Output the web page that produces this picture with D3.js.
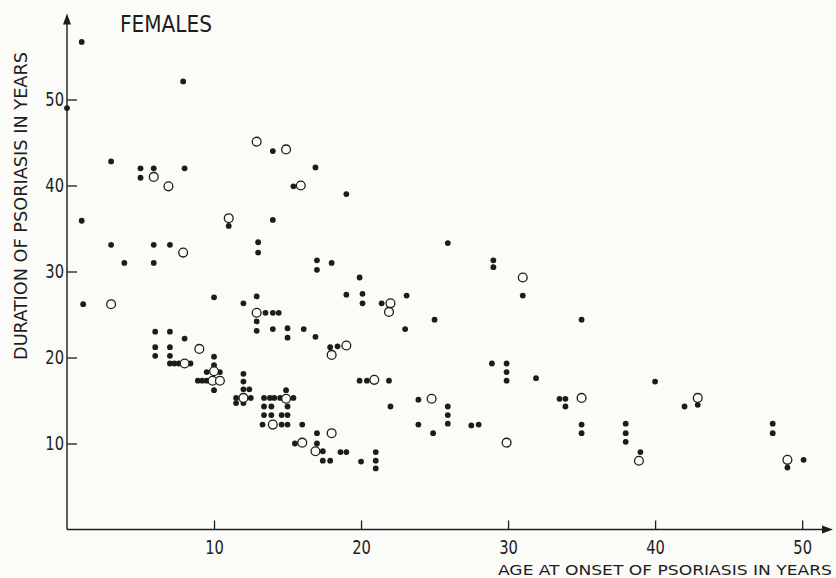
<!DOCTYPE html>
<html>
<head>
<meta charset="utf-8">
<script src="https://cdn.jsdelivr.net/npm/d3@7/dist/d3.min.js"></script>
<style>
  html, body { margin: 0; padding: 0; background: #fbfbf8; }
  svg { display: block; }
  text { font-family: "Liberation Sans Narrow", "DejaVu Sans Condensed", "Liberation Sans", Arial, sans-serif; fill: #1e1e1e; }
</style>
</head>
<body>
<svg id="chart" width="836" height="578"></svg>
<script>
// Tick values on both axes
const xTicks = [10, 20, 30, 40, 50];
const yTicks = [10, 20, 30, 40, 50];

// Filled dots: age at onset (years) and duration (years)
const filledOnset = [
  1.0, 0.0, 7.9, 3.0, 5.0, 5.0, 5.9, 8.0, 14.0, 16.9, 15.4, 19.0,
  1.0, 11.0, 14.0, 3.0, 3.9, 5.9, 5.9, 7.0, 13.0, 13.0, 17.0, 18.0, 17.0, 19.9,
  1.1, 10.0, 12.0, 12.9, 19.0, 20.1, 20.1, 21.4, 23.1, 25.0, 25.9, 29.0, 29.0, 31.0,
  13.5, 14.0, 14.4, 12.9, 12.9, 14.0, 15.0, 15.0, 16.1, 16.9, 23.0,
  6.0, 7.0, 8.0, 6.0, 7.0, 6.0, 7.0, 10.0,
  7.0, 7.3, 7.6, 8.4, 10.0, 9.5, 10.4, 8.9, 9.2, 9.5, 10.0,
  17.9, 18.4, 19.9, 20.4, 21.9,
  12.0, 12.0, 12.0, 12.4, 11.5, 12.5, 11.5, 12.0,
  13.4, 13.8, 14.1, 14.5, 15.4, 14.9,
  13.4, 13.9, 15.0, 13.4, 13.9, 14.6, 15.0, 13.3, 14.6, 15.0, 16.0,
  17.0, 15.5, 17.0, 17.4, 18.6, 19.0, 17.4, 17.9, 20.0, 21.0, 21.0, 21.0,
  23.9, 22.0, 23.9, 24.9, 25.9, 25.9, 25.9, 27.5, 28.0,
  28.9, 29.9, 29.9, 29.9, 31.9, 35.0, 40.0, 33.5, 33.9, 33.9, 35.0, 35.0,
  38.0, 38.0, 38.0, 39.0, 42.0, 42.9, 48.0, 48.0, 49.0, 50.1
];
const filledDuration = [
  56.7, 49.0, 52.1, 42.8, 42.0, 40.9, 42.0, 42.0, 44.0, 42.1, 39.9, 39.0,
  35.9, 35.3, 36.0, 33.1, 31.0, 33.1, 31.0, 33.1, 33.4, 32.2, 31.3, 31.0, 30.2, 29.3,
  26.2, 27.0, 26.3, 27.1, 27.3, 27.4, 26.3, 26.3, 27.2, 24.4, 33.3, 31.3, 30.5, 27.2,
  25.2, 25.2, 25.2, 24.2, 23.1, 23.3, 23.4, 22.3, 23.3, 22.4, 23.3,
  23.0, 23.0, 22.2, 21.2, 21.2, 20.2, 20.2, 20.1,
  19.3, 19.3, 19.3, 19.3, 19.1, 18.3, 18.3, 17.3, 17.3, 17.3, 16.2,
  21.2, 21.3, 17.3, 17.3, 17.3,
  18.1, 17.2, 16.3, 16.3, 15.3, 15.3, 14.7, 14.7,
  15.3, 15.3, 15.3, 15.3, 15.3, 16.2,
  14.3, 14.3, 14.3, 13.3, 13.3, 13.3, 13.3, 12.2, 12.2, 12.2, 12.2,
  11.2, 10.0, 10.0, 9.1, 9.0, 9.0, 8.0, 8.0, 7.9, 9.0, 8.0, 7.1,
  15.1, 14.3, 12.2, 11.2, 14.3, 13.3, 12.3, 12.1, 12.2,
  19.3, 19.3, 18.3, 17.3, 17.6, 24.4, 17.2, 15.2, 15.2, 14.3, 12.2, 11.2,
  12.3, 11.2, 10.2, 9.0, 14.3, 14.5, 12.3, 11.2, 7.2, 8.1
];

// Open circles: age at onset (years) and duration (years)
const openOnset = [
  5.9, 6.9, 12.9, 14.9, 15.9, 11.0, 7.9, 3.0, 12.9, 9.0, 22.0, 21.9, 31.0,
  19.0, 18.0, 8.0, 10.0, 9.9, 10.4, 12.0, 14.9, 14.0, 20.9, 24.8, 18.0,
  16.0, 16.9, 29.9, 35.0, 38.9, 42.9, 49.0
];
const openDuration = [
  41.0, 39.9, 45.1, 44.2, 40.0, 36.2, 32.2, 26.2, 25.2, 21.0, 26.3, 25.3, 29.3,
  21.4, 20.3, 19.3, 18.4, 17.3, 17.3, 15.3, 15.2, 12.2, 17.4, 15.2, 11.2,
  10.1, 9.1, 10.1, 15.3, 8.0, 15.3, 8.1
];

const ink = "#1c1c1c";
const paper = "#fbfbf8";
const svg = d3.select("#chart");

const x = d3.scaleLinear().domain([0, 52.1]).range([67, 833]);
const y = d3.scaleLinear().domain([0, 60]).range([529.5, 13.5]);

// Axes with inward ticks
const gx = svg.append("g")
  .attr("transform", `translate(0,${y(0)})`)
  .call(d3.axisBottom(x).tickValues(xTicks).tickSizeInner(-9).tickSizeOuter(0).tickPadding(11));
const gy = svg.append("g")
  .attr("transform", `translate(${x(0)},0)`)
  .call(d3.axisLeft(y).tickValues(yTicks).tickSizeInner(-10).tickSizeOuter(0).tickPadding(3));

[gx, gy].forEach(g => {
  g.select(".domain").remove();
  g.selectAll(".tick line").attr("stroke", ink).attr("stroke-width", 1.3);
  g.selectAll(".tick text")
    .attr("font-family", null)
    .attr("font-size", 19)
    .attr("fill", ink);
});
// Condensed digits: squeeze tick labels horizontally about their anchor
gx.selectAll(".tick text").attr("transform", "scale(0.86,1)");
gy.selectAll(".tick text").attr("transform", "translate(-3,0) scale(0.86,1) translate(3,0)");

// Axis lines ending in arrowheads
const x0 = x(0), y0 = y(0), xEnd = x.range()[1], yEnd = y.range()[1];
svg.append("line").attr("x1", x0).attr("y1", y0).attr("x2", xEnd - 8).attr("y2", y0)
  .attr("stroke", ink).attr("stroke-width", 1.4);
svg.append("line").attr("x1", x0).attr("y1", y0).attr("x2", x0).attr("y2", yEnd + 8)
  .attr("stroke", ink).attr("stroke-width", 1.4);
svg.append("path")
  .attr("d", `M${xEnd},${y0} L${xEnd - 11},${y0 - 4} L${xEnd - 11},${y0 + 4} Z`)
  .attr("fill", ink);
svg.append("path")
  .attr("d", `M${x0},${yEnd} L${x0 - 4},${yEnd + 11} L${x0 + 4},${yEnd + 11} Z`)
  .attr("fill", ink);

// Points
const filled = filledOnset.map((a, i) => ({ a, d: filledDuration[i] }));
const open = openOnset.map((a, i) => ({ a, d: openDuration[i] }));

svg.append("g").selectAll("circle").data(filled).join("circle")
  .attr("cx", p => x(p.a)).attr("cy", p => y(p.d)).attr("r", 2.9)
  .attr("fill", ink);

svg.append("g").selectAll("circle").data(open).join("circle")
  .attr("cx", p => x(p.a)).attr("cy", p => y(p.d)).attr("r", 4.4)
  .attr("fill", paper).attr("stroke", ink).attr("stroke-width", 1.3);

// Titles
svg.append("text")
  .attr("x", 120).attr("y", 32)
  .attr("font-size", 23)
  .attr("textLength", 92).attr("lengthAdjust", "spacingAndGlyphs")
  .text("FEMALES");

svg.append("text")
  .attr("x", 498).attr("y", 575)
  .attr("font-size", 14.5)
  .attr("textLength", 334).attr("lengthAdjust", "spacingAndGlyphs")
  .text("AGE AT ONSET OF PSORIASIS IN YEARS");

svg.append("text")
  .attr("transform", "rotate(-90)")
  .attr("x", -360).attr("y", 27)
  .attr("font-size", 18.5)
  .attr("textLength", 308).attr("lengthAdjust", "spacingAndGlyphs")
  .text("DURATION OF PSORIASIS IN YEARS");
</script>
</body>
</html>
